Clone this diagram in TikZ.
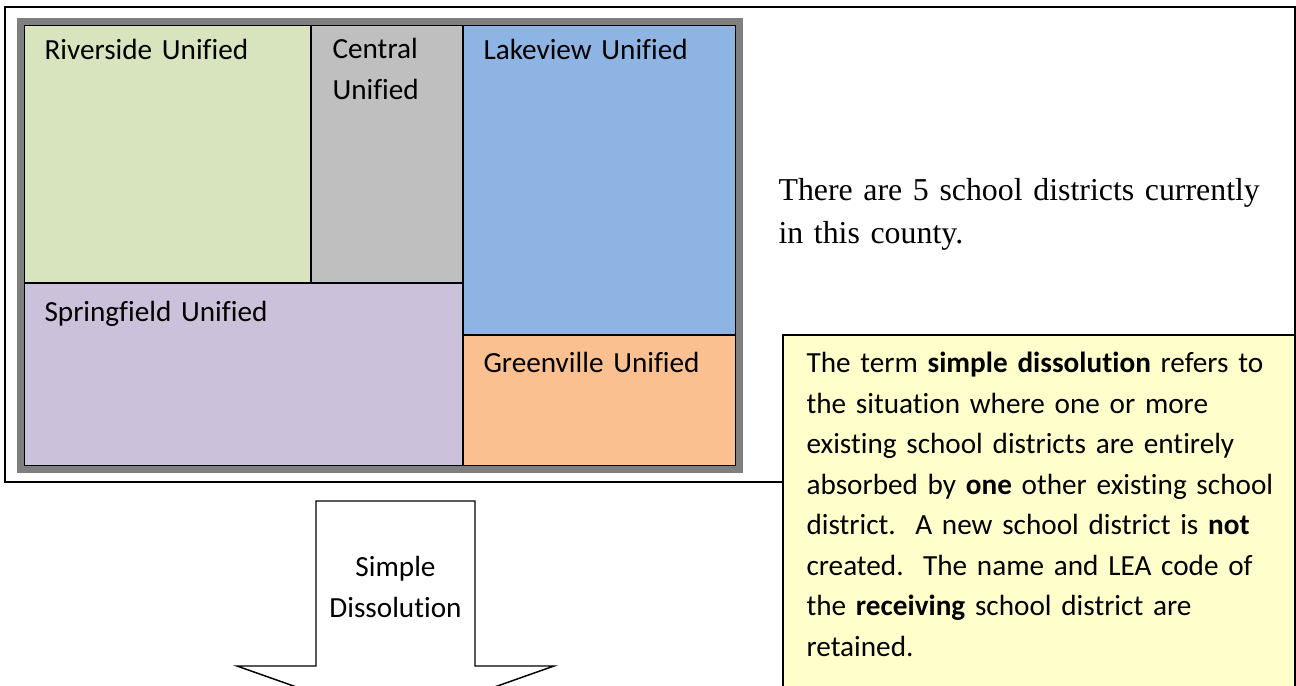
\documentclass[tikz,border=0pt]{standalone}
\usepackage{fontspec}
\setmainfont{Carlito}[Ligatures=NoCommon]
\newfontfamily\timesfont{Liberation Serif}

\definecolor{rivgreen}{HTML}{D7E4BD}
\definecolor{cengray}{HTML}{BFBFBF}
\definecolor{lakblue}{HTML}{8EB4E3}
\definecolor{sprpurple}{HTML}{CCC1DA}
\definecolor{greorange}{HTML}{FAC090}
\definecolor{framegray}{HTML}{7F7F7F}
\definecolor{noteyellow}{HTML}{FFFFCC}

\tikzset{
  region/.style={draw=black, line width=0.55pt},
  lbl/.style={anchor=base west, inner sep=0pt, align=left, text width=230pt,
    font=\fontsize{11}{15.4}\selectfont},
}

\begin{document}
\begin{tikzpicture}[x=0.3766pt, y=-0.3766pt]
\useasboundingbox (0,0) rectangle (1296,686);
\clip (0,0) rectangle (1296,686);

% county outline
\draw[line width=0.6pt] (5,7) rectangle (1295,482);

% districts
\filldraw[region, fill=rivgreen] (24,25) rectangle (311,283);
\filldraw[region, fill=cengray] (311,25) rectangle (463,283);
\filldraw[region, fill=lakblue] (463,25) rectangle (736,335);
\filldraw[region, fill=sprpurple] (24,283) rectangle (463,466);
\filldraw[region, fill=greorange] (463,335) rectangle (736,466);
\draw[framegray, line width=2.8pt] (20.5,21.5) rectangle (739.5,469.5);

\node (riv) [lbl] at (44,60) {Riverside Unified};
\node (cen) [lbl] at (332,59) {Central\\Unified};
\node (lak) [lbl] at (483,60) {Lakeview Unified};
\node (spr) [lbl] at (44,322) {Springfield Unified};
\node (gre) [lbl] at (483,373) {Greenville Unified};

\node (count) [lbl, text width=200pt, font=\timesfont\fontsize{12}{15.9}\selectfont]
  at (778,201) {There are 5 school districts currently\\in this county.};

% dissolution arrow
\filldraw[fill=white, line width=0.55pt] (316,501) -- (475,501) -- (475,666)
  -- (554,666) -- (395.5,722) -- (237,666) -- (316,666) -- cycle;
\node (dis) [lbl, anchor=base, text width=100pt, align=center] at (395.5,577)
  {Simple\\Dissolution};

% definition box
\filldraw[fill=noteyellow, line width=0.6pt] (783,335) rectangle (1295,730);
\node (def) [lbl, text width=200pt, font=\fontsize{11}{15.25}\selectfont] at (806,373)
  {The term \textbf{simple dissolution} refers to\\
   the situation where one or more\\
   existing school districts are entirely\\
   absorbed by \textbf{one} other existing school\\
   district.\ \ A new school district is \textbf{not}\\
   created.\ \ The name and LEA code of\\
   the \textbf{receiving} school district are\\
   retained.};
\end{tikzpicture}
\end{document}
